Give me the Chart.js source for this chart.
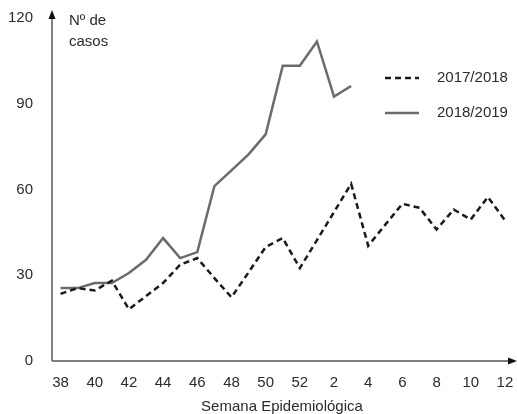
<!DOCTYPE html>
<html>
<head>
<meta charset="utf-8">
<title>Nº de casos por semana epidemiológica</title>
<script src="https://cdn.jsdelivr.net/npm/chart.js@4.4.1/dist/chart.umd.min.js"></script>
<style>
  html, body { margin: 0; padding: 0; background: #fff; }
  #wrap { width: 517px; height: 414px; }
</style>
</head>
<body>
<div id="wrap"><canvas id="casesChart" width="517" height="414"></canvas></div>
<script>
// semanas epidemiológicas 38..52 e 1..12
const weeks = ["38", "39", "40", "41", "42", "43", "44", "45", "46", "47", "48", "49", "50", "51", "52",
  "1", "2", "3", "4", "5", "6", "7", "8", "9", "10", "11", "12"];
const cases1718 = [23.5, 25.5, 24.7, 28.1, 18.1, 22.7, 27.3, 33.7, 36, 29, 22.3, 31, 39.9, 43, 32.5,
  42.3, 52.1, 62, 40.3, 47.7, 55, 53.6, 46, 53, 49.5, 57.4, 49.2];
const cases1819 = [25.5, 25.5, 27.3, 27.3, 30.8, 35.4, 43, 36, 38.1, 61.2, 66.7, 72.3, 79.3, 103.3, 103.3,
  111.8, 92.5, 96.2, null, null, null, null, null, null, null, null, null];
const seriesNames = ["2017/2018", "2018/2019"];
const yTicks = [0, 30, 60, 90, 120];

const FONT = "'Liberation Sans', Arial, sans-serif";
const TEXT_COLOR = "#2b2b2b";

// axes with arrowheads, y label and the legend
const decorPlugin = {
  id: "decor",
  afterDraw(chart) {
    const ctx = chart.ctx;
    const area = chart.chartArea;
    const x0 = area.left;
    const y0 = area.bottom;
    ctx.save();
    ctx.strokeStyle = "#555";
    ctx.lineWidth = 1.5;
    ctx.beginPath();
    ctx.moveTo(x0, y0);
    ctx.lineTo(x0, 16);
    ctx.moveTo(x0, y0);
    ctx.lineTo(512, y0);
    ctx.stroke();

    ctx.fillStyle = "#111";
    ctx.beginPath();
    ctx.moveTo(x0, 10);
    ctx.lineTo(x0 - 3.5, 19);
    ctx.lineTo(x0 + 3.5, 19);
    ctx.closePath();
    ctx.fill();
    ctx.beginPath();
    ctx.moveTo(517, y0);
    ctx.lineTo(508, y0 - 3.5);
    ctx.lineTo(508, y0 + 3.5);
    ctx.closePath();
    ctx.fill();

    ctx.font = "15px " + FONT;
    ctx.fillStyle = TEXT_COLOR;
    ctx.textBaseline = "middle";
    ctx.textAlign = "left";
    ctx.fillText("Nº de", 69, 21);
    ctx.fillText("casos", 69, 42);

    ctx.textAlign = "center";
    ctx.fillText("Semana Epidemiológica", 282, 407);

    // legend
    ctx.textAlign = "left";
    const rows = [
      { y: 78, dash: [6, 4], color: "#1a1a1a" },
      { y: 113, dash: [], color: "#6b6b6b" }
    ];
    rows.forEach((row, i) => {
      ctx.strokeStyle = row.color;
      ctx.lineWidth = 2.5;
      ctx.setLineDash(row.dash);
      ctx.beginPath();
      ctx.moveTo(385, row.y);
      ctx.lineTo(419, row.y);
      ctx.stroke();
      ctx.setLineDash([]);
      ctx.fillText(seriesNames[i], 437, row.y);
    });
    ctx.restore();
  }
};

const ctx = document.getElementById("casesChart").getContext("2d");
new Chart(ctx, {
  type: "line",
  data: {
    labels: weeks,
    datasets: [
      {
        label: seriesNames[0],
        data: cases1718,
        borderColor: "#1a1a1a",
        borderWidth: 2.5,
        borderDash: [6, 4],
        pointRadius: 0,
        tension: 0,
        fill: false
      },
      {
        label: seriesNames[1],
        data: cases1819,
        borderColor: "#6b6b6b",
        borderWidth: 2.5,
        pointRadius: 0,
        tension: 0,
        fill: false,
        spanGaps: false
      }
    ]
  },
  options: {
    responsive: false,
    animation: false,
    layout: { padding: { top: 18, right: 3.5, left: 0, bottom: 0 } },
    plugins: {
      legend: { display: false },
      tooltip: { enabled: false }
    },
    scales: {
      x: {
        type: "category",
        offset: true,
        grid: { display: false, drawTicks: false },
        border: { display: false },
        ticks: {
          autoSkip: false,
          maxRotation: 0,
          padding: 13,
          color: TEXT_COLOR,
          font: { size: 15, family: FONT },
          callback: function (value, index) {
            return index % 2 === 0 ? weeks[index] : "";
          }
        },
        afterFit: function (scale) {
          scale.height = 53;
          scale.paddingLeft = 0;
          scale.paddingRight = 0;
        }
      },
      y: {
        min: 0,
        max: 120,
        afterBuildTicks: function (scale) {
          scale.ticks = yTicks.map((v) => ({ value: v }));
        },
        grid: { display: false, drawTicks: false },
        border: { display: false },
        ticks: {
          padding: 19,
          color: TEXT_COLOR,
          font: { size: 15, family: FONT }
        },
        afterFit: function (scale) {
          scale.width = 52;
          scale.paddingTop = 0;
          scale.paddingBottom = 0;
        }
      }
    }
  },
  plugins: [decorPlugin]
});
</script>
</body>
</html>
